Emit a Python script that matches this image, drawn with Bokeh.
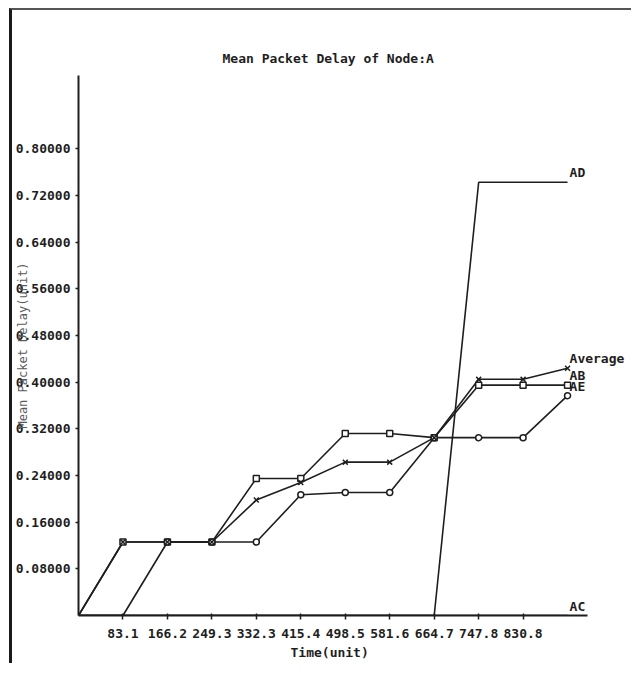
import numpy as np
from bokeh.plotting import figure
from bokeh.models import (FixedTicker, PrintfTickFormatter, ColumnDataSource,
                          Range1d, Title)
from bokeh.embed import file_html
from bokeh.resources import INLINE
from bokeh.core.properties import value

# ---- data ----
title_text = "Mean Packet Delay of Node:A"
x_label = "Time(unit)"
y_label = "Mean Packet Delay(unit)"

times = [0.0, 83.1, 166.2, 249.3, 332.3, 415.4, 498.5, 581.6, 664.7, 747.8, 830.8, 913.9]
x_ticks = [83.1, 166.2, 249.3, 332.3, 415.4, 498.5, 581.6, 664.7, 747.8, 830.8]
y_ticks = [0.08, 0.16, 0.24, 0.32, 0.40, 0.48, 0.56, 0.64, 0.72, 0.80]

series_names = ["AB", "AC", "AD", "AE", "Average"]
ab = [0.0, 0.126, 0.126, 0.126, 0.235, 0.235, 0.312, 0.312, 0.305, 0.395, 0.395, 0.395]
ac = [0.0, 0.0, 0.0, 0.0, 0.0, 0.0, 0.0, 0.0, 0.0, 0.0, 0.0, 0.0]
ad = [0.0, 0.0, 0.0, 0.0, 0.0, 0.0, 0.0, 0.0, 0.0, 0.743, 0.743, 0.743]
ae = [0.0, 0.0, 0.126, 0.126, 0.126, 0.207, 0.211, 0.211, 0.305, 0.305, 0.305, 0.377]
average = [0.0, 0.126, 0.126, 0.126, 0.198, 0.228, 0.263, 0.263, 0.305, 0.405, 0.405, 0.424]

x_axis_end = 951.0
y_axis_end = 0.926

FONT = "DejaVu Sans Mono"
INK = "#1e1e1e"

p = figure(width=622, height=655, output_backend="svg", toolbar_location=None,
           x_range=Range1d(0, 1039), y_range=Range1d(0, y_axis_end),
           min_border_left=60, min_border_right=0, min_border_top=65,
           min_border_bottom=50, background_fill_color="white",
           border_fill_color="white")
p.styles = {"margin-left": "9px", "margin-top": "8px",
            "border-left": "3px solid #1a1a1a", "border-top": "2px solid #555555"}
p.outline_line_color = None
p.grid.visible = False

p.title.text = title_text
p.title.align = "left"
p.title.offset = 144
p.title.standoff = 19
p.title.text_font = FONT
p.title.text_font_size = "13px"
p.title.text_font_style = "bold"
p.title.text_color = INK

for ax in (p.xaxis[0], p.yaxis[0]):
    ax.axis_line_color = INK
    ax.axis_line_width = 2
    ax.major_tick_line_color = INK
    ax.major_tick_line_width = 1.5
    ax.minor_tick_line_color = None
    ax.major_label_text_font = FONT
    ax.major_label_text_font_size = "13px"
    ax.major_label_text_font_style = "bold"
    ax.major_label_text_color = INK
    ax.axis_label_text_font = FONT
    ax.axis_label_text_font_style = "normal"
    ax.axis_label_text_color = INK

p.xaxis.ticker = FixedTicker(ticks=x_ticks)
p.xaxis.formatter = PrintfTickFormatter(format="%.1f")
p.xaxis.bounds = (0, x_axis_end)
p.xaxis.major_tick_out = 4
p.xaxis.major_tick_in = 2
p.xaxis.major_label_standoff = 9

xt = Title(text=x_label, align="left", offset=212, standoff=4,
           text_font=FONT, text_font_size="13px", text_font_style="bold",
           text_color=INK)
p.add_layout(xt, "below")

p.yaxis.ticker = FixedTicker(ticks=y_ticks)
p.yaxis.formatter = PrintfTickFormatter(format="%.5f")
p.yaxis.bounds = (0, y_axis_end)
p.yaxis.major_tick_out = 3
p.yaxis.major_tick_in = 0
p.yaxis.major_label_standoff = 5
p.yaxis.axis_label = y_label
p.yaxis.axis_label_text_font_size = "12px"
p.yaxis.axis_label_text_color = "#5a5a5a"
p.yaxis.axis_label_standoff = -17

t = np.array(times)
data = {"AB": np.array(ab), "AC": np.array(ac), "AD": np.array(ad),
        "AE": np.array(ae), "Average": np.array(average)}

for name in series_names:
    p.line(t, data[name], line_color=INK, line_width=1.6)

marker_of = {"AB": "square", "AE": "circle", "Average": "x"}
for name, mk in marker_of.items():
    y = data[name]
    m = y > 0
    p.scatter(t[m], y[m], marker=mk, size=6 if mk != "x" else 7,
              line_color=INK, fill_color="white", line_width=1.5)

# end-of-line series labels
lab_src = ColumnDataSource(dict(
    x=[t[-1]] * len(series_names),
    y=[data[n][-1] for n in series_names],
    text=series_names))
p.text(x="x", y="y", text="text", source=lab_src, text_font=value(FONT),
       text_font_size="13px", text_font_style="bold", text_color=INK,
       text_baseline="bottom", text_align="left", x_offset=2, y_offset=-2)

open("out.html", "w").write(file_html(p, INLINE))
